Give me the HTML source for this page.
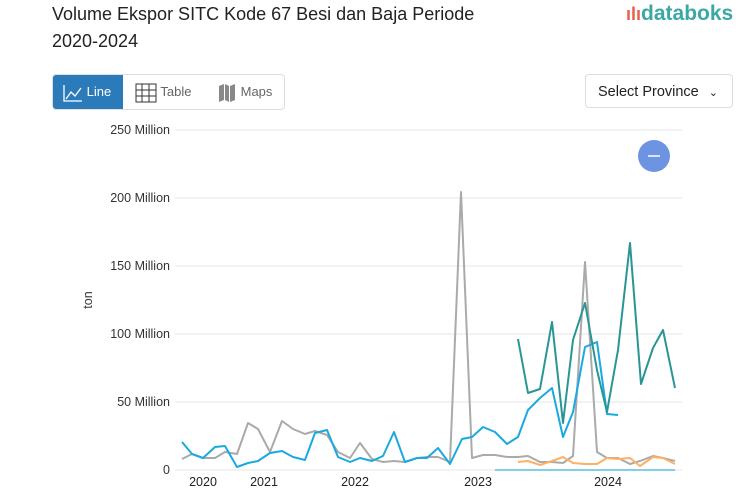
<!DOCTYPE html>
<html><head><meta charset="utf-8"><style>
body{margin:0;width:753px;height:498px;background:#fff;font-family:"Liberation Sans",sans-serif;overflow:hidden;position:relative}
.t{position:absolute;left:52px;top:1px;font-size:18px;line-height:27px;color:#222;white-space:nowrap}
.logo{position:absolute;left:626px;top:2px;font-size:21px;font-weight:bold;color:#3aa8a4}
.tabs{position:absolute;left:52px;top:74px;width:231px;height:34px;border:1px solid #ddd;border-radius:4px;font-size:13px;color:#666}
.tab{position:absolute;top:0;height:34px;line-height:34px}
.sel{position:absolute;left:585px;top:74px;width:148px;height:34px;border:1px solid #ddd;border-radius:4px;font-size:14.5px;line-height:34px;color:#222;box-sizing:border-box;padding-left:12px}
</style></head><body>
<div class="t">Volume Ekspor SITC Kode 67 Besi dan Baja Periode<br>2020-2024</div>
<div class="logo"><span style="color:#e8604c;font-size:18px">ılı</span>databoks</div>
<div class="tabs">
<div class="tab" style="left:0;width:70px;background:#2b7bba;border-radius:3px 0 0 3px;color:#fff;padding-left:10px;box-sizing:border-box">
<svg width="20" height="18" style="vertical-align:middle"><path d="M1 1V17H19M3 15L8 8L12 12L18 4" stroke="#fff" fill="none" stroke-width="1.3"/></svg> Line</div>
<div class="tab" style="left:82px"><svg width="22" height="20" style="vertical-align:middle"><path d="M1 1H21V19H1ZM1 7H21M1 13H21M7 1V19M14 1V19" stroke="#333" fill="none"/></svg> Table</div>
<div class="tab" style="left:164px"><svg width="20" height="20" style="vertical-align:middle"><path d="M2 3L7 1V17L2 19ZM8 1L12 3V19L8 17ZM13 3L18 1V17L13 19Z" fill="#888"/></svg> Maps</div>
</div>
<div class="sel">Select Province <span style="font-size:11px;margin-left:6px">&#8964;</span></div>
<svg width="753" height="498" style="position:absolute;left:0;top:0">
<g stroke="#e6e6e6" stroke-width="1">
<line x1="175" x2="682" y1="130" y2="130"/><line x1="175" x2="682" y1="198" y2="198"/><line x1="175" x2="682" y1="266" y2="266"/><line x1="175" x2="682" y1="334" y2="334"/><line x1="175" x2="682" y1="402" y2="402"/><line x1="175" x2="682" y1="470" y2="470"/>
</g>
<g font-size="12.5" fill="#333" text-anchor="end">
<text x="170" y="134">250 Million</text><text x="170" y="202">200 Million</text><text x="170" y="270">150 Million</text><text x="170" y="338">100 Million</text><text x="170" y="406">50 Million</text><text x="170" y="474">0</text>
</g>
<text transform="translate(92,300) rotate(-90)" font-size="12.5" fill="#333" text-anchor="middle">ton</text>
<g font-size="12.5" fill="#222" text-anchor="middle">
<text x="203" y="486">2020</text><text x="264" y="486">2021</text><text x="355" y="486">2022</text><text x="478" y="486">2023</text><text x="608" y="486">2024</text>
</g>
<g fill="none" stroke-width="2" stroke-linejoin="round">
<polyline stroke="#7fd0ee" points="495,470 675,470"/>
<polyline stroke="#aaa" points="182,459 192,454 203,458 215,458 225,452 237,454 248,423 258,429 270,452 282,421 293,429 305,434 315,431 327,435 338,452 350,458 360,443 372,459 383,462 394,461 405,462 417,458 427,457 438,457 450,462 461,192 472,458 483,455 495,455 507,457 518,457 528,456 540,462 552,462 563,463 573,456 585,262 597,452 607,458 618,458 630,464 640,461 653,456 663,458 675,461"/>
<polyline stroke="#1aa9e0" points="182,442 192,454 203,458 215,447 225,446 237,467 248,463 258,461 270,453 282,451 293,457 305,460 315,433 327,430 338,457 350,462 360,458 372,461 383,456 394,432 405,462 417,458 427,458 438,448 450,464 462,439 472,437 483,427 495,432 507,444 518,437 528,410 540,398 552,388 563,437 573,412 585,347 597,342 607,414 618,415"/>
<polyline stroke="#ffb062" points="518,462 528,461 540,465 552,461 563,457 573,463 585,464 597,464 607,458 618,459 630,458 640,466 653,457 663,458 675,464"/>
<polyline stroke="#2a9595" points="518,339 528,393 540,389 552,322 563,423 573,340 585,303 597,370 607,412 618,350 630,243 641,384 653,348 663,330 675,388"/>
</g>
<circle cx="654" cy="156" r="16" fill="#6d93e3"/><line x1="648" y1="156" x2="660" y2="156" stroke="#fff" stroke-width="1.5"/>
</svg>
</body></html>
